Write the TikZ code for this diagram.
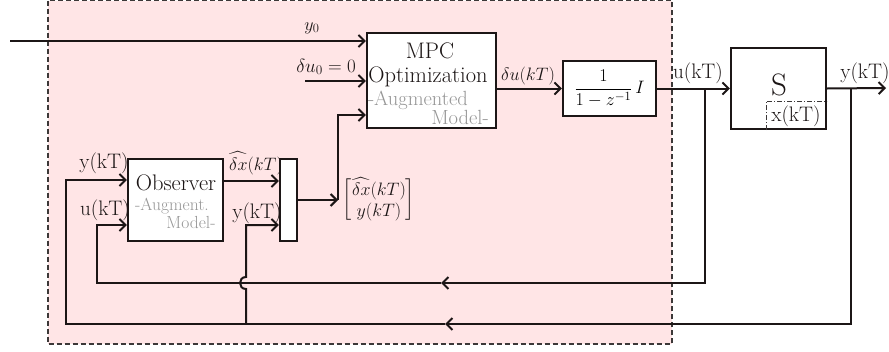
\documentclass[tikz,border=0pt]{standalone}
\usepackage{fix-cm}
\usepackage{amsmath}
\usetikzlibrary{arrows.meta}
\definecolor{zonepink}{RGB}{255,229,230}
\definecolor{inkc}{RGB}{28,22,22}
\definecolor{notec}{RGB}{150,150,150}
\definecolor{edgec}{RGB}{60,56,56}
\begin{document}
\begin{tikzpicture}[x=1pt,y=-1pt,
  wire/.style={draw=inkc,line width=2pt},
  sig/.style={wire,-{Straight Barb[length=6pt,width=12pt]}},
  block/.style={draw=inkc,line width=2.2pt,fill=white,inner sep=0pt},
  lbl/.style={inner sep=0pt,anchor=base,text=inkc,font=\fontsize{18}{21}\selectfont},
  txt/.style={inner sep=0pt,anchor=base,text=inkc,font=\fontsize{21}{24}\selectfont},
  title/.style={inner sep=0pt,anchor=base,text=inkc,font=\fontsize{22.5}{26}\selectfont},
  grey/.style={inner sep=0pt,anchor=base,text=notec,font=\fontsize{20.5}{24}\selectfont},
  greysm/.style={inner sep=0pt,anchor=base,text=notec,font=\fontsize{17.5}{20}\selectfont},
  ctrlzone/.style={fill=zonepink,draw=edgec,line width=1.3pt,dash pattern=on 5pt off 3pt},
  dashdot/.style={draw=edgec,line width=0.9pt,dash pattern=on 5pt off 2pt on 1pt off 2pt}]
\useasboundingbox (0,0) rectangle (889,351);

% controller region
\fill[white] (0,0) rectangle (889,351);
\draw[ctrlzone] (48,0.6) rectangle (672,344);

% blocks
\node[block,minimum width=129pt,minimum height=95pt] (mpc) at (431.5,80.5) {};
\node[title] (mpcA) at (430,58) {MPC};
\node[title] (mpcB) at (428,82) {Optimization};
\node[grey] (mpcC) at (418,105) {-Augmented};
\node[grey] (mpcD) at (460,124) {Model-};

\node[block,minimum width=93pt,minimum height=55pt,font=\fontsize{18}{21}\selectfont] (acc) at (609.5,88.5) {$\dfrac{1}{1-z^{-1}}\,I$};

\node[block,minimum width=95pt,minimum height=81pt] (plant) at (778.5,88.5) {};
\node[inner sep=0pt,anchor=base,text=inkc,font=\fontsize{31}{34}\selectfont] (plantS) at (779,95) {S};
\draw[dashdot] ([xshift=-61pt]plant.south east) -- ([xshift=-61pt,yshift=29pt]plant.south east) -- ([yshift=29pt]plant.south east);
\node[txt] (plantx) at (796,121) {x(kT)};

\node[block,minimum width=95pt,minimum height=82pt] (obs) at (175.5,200) {};
\node[title] (obsA) at (176,190) {Observer};
\node[greysm] (obsB) at (172,210) {-Augment.};
\node[greysm] (obsC) at (191,228) {Model-};

% labels on the signals
\node[lbl] (ly0) at (312,30) {$y_0$};
\node[lbl,font=\fontsize{19}{22}\selectfont] (ldu0) at (326,72) {$\delta u_0=0$};
\node[lbl] (lduk) at (528,80) {$\delta u(kT)$};
\node[txt] (luk) at (698,78) {u(kT)};
\node[txt] (lyk) at (865,78) {y(kT)};
\node[txt] (lyobs) at (104,168) {y(kT)};
\node[txt] (luobs) at (105,215) {u(kT)};
\node[lbl] (ldx) at (256,170) {$\widehat{\delta x}(kT)$};
\node[txt] (lymux) at (257,218) {y(kT)};
\node[inner sep=0pt,text=inkc,font=\fontsize{18}{21}\selectfont] (lstate) at (379,200)
  {$\begin{bmatrix}\widehat{\delta x}(kT)\\ y(kT)\end{bmatrix}$};

% stacking block, drawn over the estimate label
\node[block,minimum width=17pt,minimum height=82pt] (mux) at (288.5,200) {};

% junction points
\coordinate (src) at (10,41);
\coordinate (du0) at (305,81);
\coordinate (jn) at (338,200);
\coordinate (ubr) at (705,88);
\coordinate (ybr) at (851,88);
\coordinate (uret) at (441,283);
\coordinate (yret) at (445,324);
\coordinate (ucor) at (97,283);
\coordinate (ycor) at (66,324);
\coordinate (ytap) at (246,324);
\coordinate (hopb) at (246,289);
\coordinate (hopt) at (246,277);
\coordinate (yend) at (886,88);

% forward path
\draw[sig] (src) -- (src -| mpc.west);
\draw[sig] (du0) -- (du0 -| mpc.west);
\draw[sig] (mux.east) -- (jn);
\draw[sig] (jn) -- (338,115) -- (338,115 -| mpc.west);
\draw[sig] (acc.west -| mpc.east) -- (acc.west);
\draw[sig] (acc.east) -- (plant.west);
\draw[sig] (plant.east) -- (yend);
\draw[sig] (obs.east |- 0,181) -- (mux.west |- 0,181);

% feedback of u(kT)
\draw[sig] (ubr) |- (uret);
\draw[sig] (uret) -- (ucor) -- (ucor |- 0,225) -- (obs.west |- 0,225);

% feedback of y(kT)
\draw[sig] (ybr) |- (yret);
\draw[sig] (yret) -- (ycor) -- (ycor |- 0,180) -- (obs.west |- 0,180);
\draw[sig] (ytap) -- (hopb) .. controls (238,289) and (238,277) .. (hopt) -- (hopt |- 0,225) -- (mux.west |- 0,225);
\end{tikzpicture}
\end{document}
